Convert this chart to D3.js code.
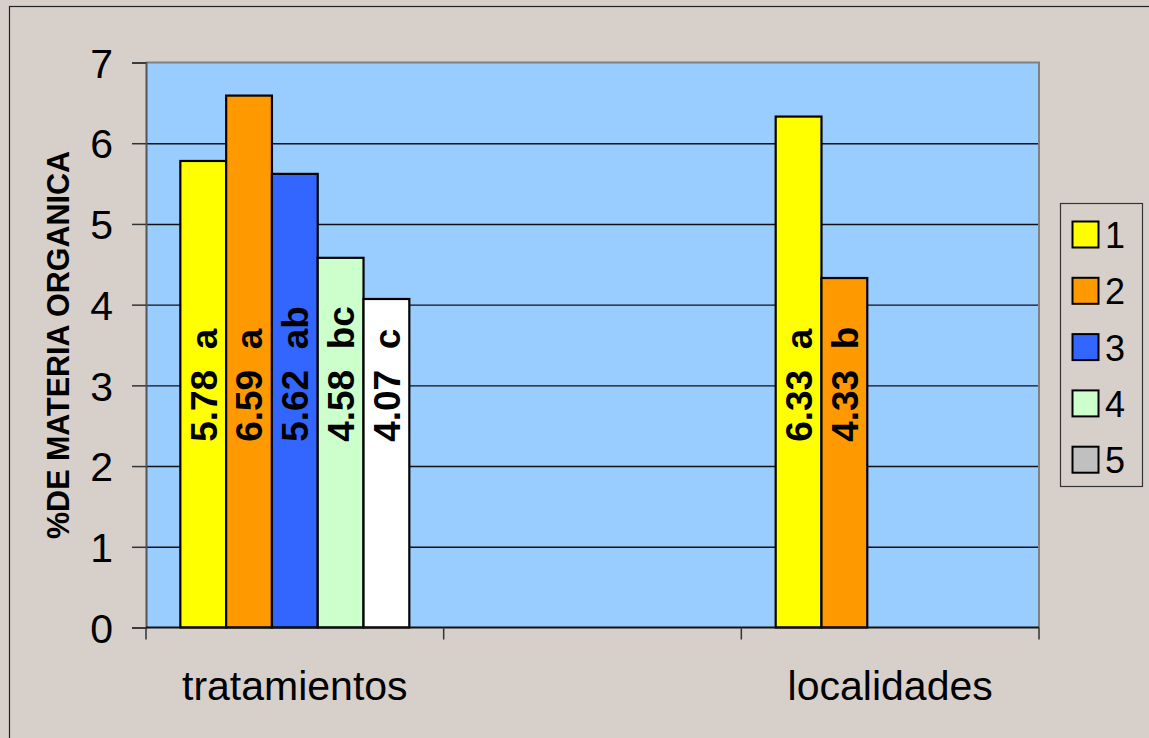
<!DOCTYPE html>
<html>
<head>
<meta charset="utf-8">
<script src="https://cdn.jsdelivr.net/npm/d3@7"></script>
<style>
  body { margin: 0; background: #d7d0ca; }
  svg { display: block; font-family: "Liberation Sans", Arial, sans-serif; }
</style>
</head>
<body>
<svg id="chart" width="1149" height="738"></svg>
<script>
// categories on the x axis (the middle one is an empty slot)
const categories = ['tratamientos', '', 'localidades'];
const seriesNames = ['1', '2', '3', '4', '5'];
// values per series, one per category (null = no bar)
const s1 = [5.78, null, 6.33];
const s2 = [6.59, null, 4.33];
const s3 = [5.62, null, null];
const s4 = [4.58, null, null];
const s5 = [4.07, null, null];
// significance letters shown next to each value
const l1 = ['a', '', 'a'];
const l2 = ['a', '', 'b'];
const l3 = ['ab', '', ''];
const l4 = ['bc', '', ''];
const l5 = ['c', '', ''];
const yTicks = [0, 1, 2, 3, 4, 5, 6, 7];

const seriesValues = [s1, s2, s3, s4, s5];
const seriesLetters = [l1, l2, l3, l4, l5];
const seriesColors = ['#ffff00', '#ff9900', '#3366ff', '#ccffcc', '#c0c0c0'];
const barOverride = { '4-0': '#ffffff' }; // the 4.07 bar is filled white in the original
const LABEL_BASE = 2.3; // value where the rotated labels start

const svg = d3.select('svg#chart');
const plot = { left: 146, right: 1039, top: 62.5, bottom: 627.5 };

// outer chart frame
svg.append('rect')
    .attr('x', 9.5).attr('y', 6.5)
    .attr('width', 1200).attr('height', 800)
    .attr('fill', '#d7d0ca')
    .attr('stroke', '#222').attr('stroke-width', 1.2);

const x0 = d3.scaleBand().domain(categories).range([plot.left, plot.right]);
const x1 = d3.scaleBand().domain(seriesNames).range([0, x0.bandwidth()])
    .paddingInner(0).paddingOuter(0.75);
const y = d3.scaleLinear().domain([0, 7]).range([plot.bottom, plot.top]);

// plot background
svg.append('rect')
    .attr('x', plot.left).attr('y', plot.top)
    .attr('width', plot.right - plot.left).attr('height', plot.bottom - plot.top)
    .attr('fill', '#99ccff');

// gridlines
svg.append('g')
    .attr('transform', `translate(${plot.left},0)`)
    .call(d3.axisLeft(y).tickValues(yTicks.slice(1, -1)).tickSize(-(plot.right - plot.left)).tickFormat(''))
    .call(g => g.select('.domain').remove())
    .call(g => g.selectAll('line').attr('stroke', '#111').attr('stroke-width', 1.4));

// top and right border of plot area
svg.append('path')
    .attr('d', `M${plot.left},${plot.top}H${plot.right}V${plot.bottom}`)
    .attr('fill', 'none').attr('stroke', '#808080').attr('stroke-width', 2);

// bars
const groups = svg.append('g').selectAll('g')
    .data(seriesValues)
    .join('g');

groups.each(function(vals, si) {
  d3.select(this).selectAll('rect')
      .data(vals.map((v, ci) => ({ v, ci })).filter(d => d.v !== null))
      .join('rect')
      .attr('x', d => x0(categories[d.ci]) + x1(seriesNames[si]))
      .attr('y', d => y(d.v))
      .attr('width', x1.bandwidth())
      .attr('height', d => y(0) - y(d.v))
      .attr('fill', d => barOverride[`${si}-${d.ci}`] || seriesColors[si])
      .attr('stroke', '#000').attr('stroke-width', 2.2);
});

// y axis
svg.append('g')
    .attr('transform', `translate(${plot.left},0)`)
    .call(d3.axisLeft(y).tickValues(yTicks).tickSize(14).tickPadding(19).tickFormat(d3.format('d')))
    .call(g => g.select('.domain').attr('stroke', '#555').attr('stroke-width', 2))
    .call(g => g.selectAll('line').attr('stroke', '#333').attr('stroke-width', 1.5))
    .call(g => g.selectAll('text')
        .attr('font-size', 41).attr('fill', '#000').attr('dy', '0.36em')
        .style('font-family', '"Liberation Sans", Arial, sans-serif'));

// x axis line and category boundary ticks
svg.append('line')
    .attr('x1', plot.left).attr('x2', plot.right)
    .attr('y1', plot.bottom).attr('y2', plot.bottom)
    .attr('stroke', '#111').attr('stroke-width', 2);
const bounds = categories.map(c => x0(c)).concat([x0(categories[categories.length - 1]) + x0.bandwidth()]);
svg.append('g').selectAll('line')
    .data(bounds)
    .join('line')
    .attr('x1', d => d).attr('x2', d => d)
    .attr('y1', plot.bottom).attr('y2', plot.bottom + 12)
    .attr('stroke', '#333').attr('stroke-width', 1.5);
svg.append('g').selectAll('text')
    .data(categories)
    .join('text')
    .attr('x', d => x0(d) + x0.bandwidth() / 2)
    .attr('y', 700)
    .attr('text-anchor', 'middle')
    .attr('font-size', 41)
    .text(d => d);

// value labels, rotated inside the bars
groups.each(function(vals, si) {
  d3.select(this).selectAll('text')
      .data(vals.map((v, ci) => ({ v, ci })).filter(d => d.v !== null))
      .join('text')
      .attr('transform', d => `translate(${x0(categories[d.ci]) + x1(seriesNames[si]) + x1.bandwidth() / 2},${y(LABEL_BASE)}) rotate(-90)`)
      .attr('dy', '0.36em')
      .attr('font-size', 37)
      .attr('font-weight', 'bold')
      .attr('xml:space', 'preserve')
      .style('white-space', 'pre')
      .text(d => `${d3.format('.2f')(d.v)}  ${seriesLetters[si][d.ci]}`);
});

// y axis title
svg.append('text')
    .attr('transform', `translate(58,${(plot.top + plot.bottom) / 2}) rotate(-90)`)
    .attr('dy', '0.36em')
    .attr('text-anchor', 'middle')
    .attr('font-size', 30.5)
    .attr('font-weight', 'bold')
    .text('%DE MATERIA ORGANICA');

// legend
const legend = svg.append('g').attr('transform', 'translate(1060,203)');
legend.append('rect')
    .attr('x', 0.5).attr('y', 0.5).attr('width', 82).attr('height', 283)
    .attr('fill', '#d7d0ca').attr('stroke', '#333').attr('stroke-width', 1.2);
const items = legend.selectAll('g.item')
    .data(seriesNames)
    .join('g')
    .attr('class', 'item')
    .attr('transform', (d, i) => `translate(0,${18 + i * 56.3})`);
items.append('rect')
    .attr('x', 12.5).attr('y', 0.5).attr('width', 26).attr('height', 26)
    .attr('fill', (d, i) => seriesColors[i])
    .attr('stroke', '#000').attr('stroke-width', 2);
items.append('text')
    .attr('x', 45).attr('y', 14).attr('dy', '0.36em')
    .attr('font-size', 36)
    .text(d => d);
</script>
</body>
</html>
